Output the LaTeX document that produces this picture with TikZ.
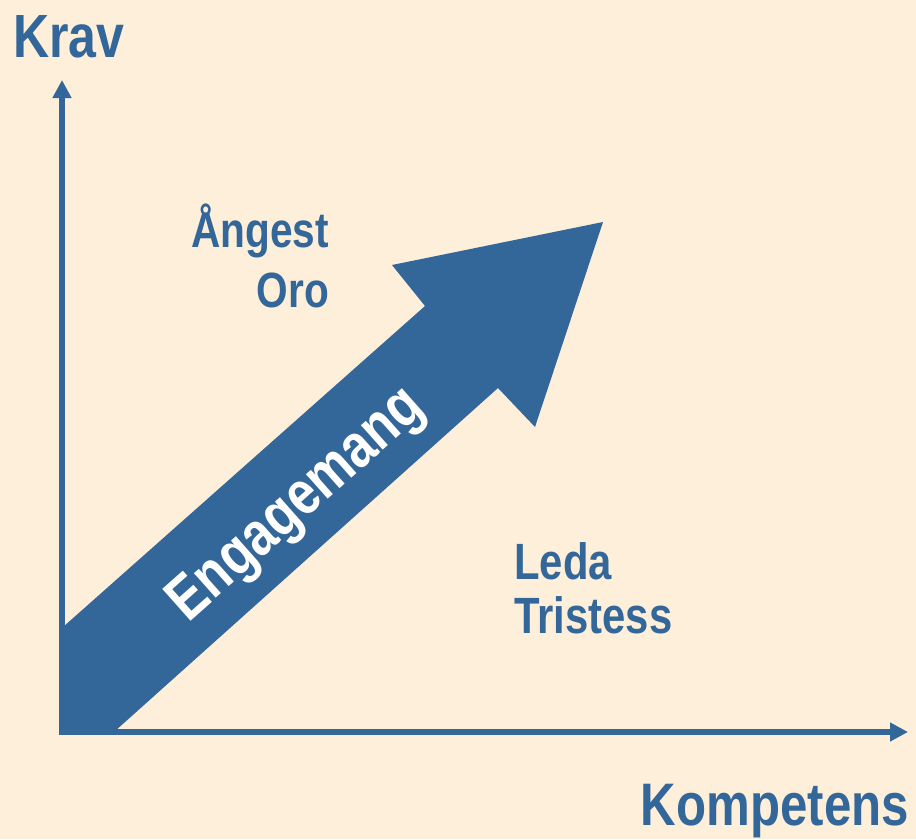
\documentclass[tikz,border=0pt]{standalone}
\usepackage{fontspec}
\setmainfont{Liberation Sans}
\newfontfamily\narrowfont{Liberation Sans}[FakeStretch=0.82]
\usetikzlibrary{arrows.meta}
\definecolor{bgc}{RGB}{253,239,218}
\definecolor{blu}{RGB}{51,102,153}
\tikzset{
  axis/.style={draw=blu, line width=6pt, -{Triangle[length=18pt,width=18pt]}},
  lbl/.style={text=blu, inner sep=0pt, font=\narrowfont\bfseries\fontsize{#1}{#1}\selectfont},
}
\begin{document}
\begin{tikzpicture}[x=1pt,y=-1pt]
\fill[bgc] (0,0) rectangle (916,839);
\useasboundingbox (0,0) rectangle (916,839);
% big arrow
\fill[blu] (63,627) -- (425,306) -- (392,265) -- (603,222) -- (535,427) -- (498,388) -- (115,731) -- (63,731) -- cycle;
% axes
\coordinate (ytop) at (62,80);
\coordinate (ybot) at (62,734);
\coordinate (xend) at (908,732);
\coordinate (o2) at (59,732);
\draw[axis] (ybot) -- (ytop);
\draw[axis] (o2) -- (xend);
% labels
\node[lbl=61, anchor=base west] (krav) at (13,57) {Krav};
\node[lbl=60, anchor=base east] (komp) at (909,825) {Kompetens};
\node[lbl=49.5, anchor=base east] (ang) at (329,247) {Ångest};
\node[lbl=49.5, anchor=base east] (oro) at (329,307) {Oro};
\node[lbl=51, anchor=base west] (leda) at (514,579) {Leda};
\node[lbl=51, anchor=base west] (trist) at (514,633) {Tristess};
\node[lbl=62, text=white, rotate=41.6] (eng) at (298,506) {Engagemang};
\end{tikzpicture}
\end{document}
